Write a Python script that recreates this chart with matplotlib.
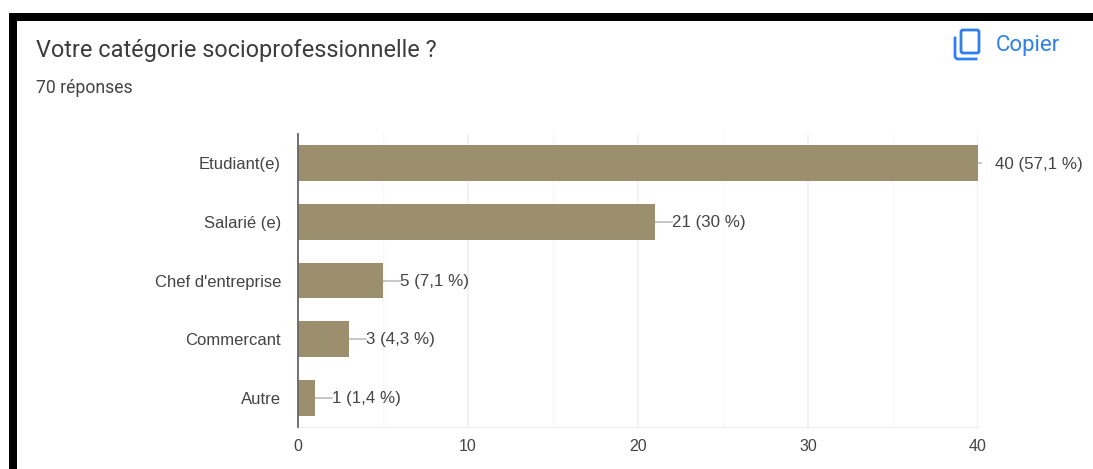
import matplotlib
matplotlib.use("Agg")
import matplotlib.pyplot as plt
from matplotlib.patches import FancyBboxPatch, Rectangle
from matplotlib.lines import Line2D

categories = ["Etudiant(e)", "Salarié (e)", "Chef d'entreprise", "Commercant", "Autre"]
counts = [40, 21, 5, 3, 1]
value_labels = ["40 (57,1 %)", "21 (30 %)", "5 (7,1 %)", "3 (4,3 %)", "1 (1,4 %)"]
x_ticks = [0, 10, 20, 30, 40]

W, H = 1093, 469
BAR = "#9c8f6e"
TXT = "#444444"
BLUE = "#2f80ed"

fig = plt.figure(figsize=(W / 100, H / 100), dpi=100)

# pixel coordinate layer for the card frame, header and icon
bg = fig.add_axes([0, 0, 1, 1])
bg.set_xlim(0, W)
bg.set_ylim(H, 0)
bg.axis("off")
bg.add_patch(Rectangle((9, 13), W - 9, 8, color="black", lw=0))
bg.add_patch(Rectangle((9, 13), 8, H - 13, color="black", lw=0))

bg.text(36, 51, "Votre catégorie socioprofessionnelle ?", fontsize=16.95, family="Roboto",
        color="#3c3c3c", va="center", ha="left")
bg.text(36, 88, "70 réponses", fontsize=12.7, family="Roboto", color="#444444", va="center", ha="left")
bg.text(996, 46, "Copier", fontsize=16, family="Roboto", color=BLUE, va="center", ha="left")

# copy icon
bg.add_patch(FancyBboxPatch((961, 30), 18, 23, boxstyle="round,pad=0,rounding_size=2",
                            fill=False, ec=BLUE, lw=2))
bg.add_line(Line2D([955, 955, 957, 976], [38, 57, 59, 59], color=BLUE, lw=2))

# bar chart
x0, x1, y0, y1 = 298, 978, 134, 427
ax = fig.add_axes([x0 / W, 1 - y1 / H, (x1 - x0) / W, (y1 - y0) / H])
ypos = list(range(len(categories)))
ax.barh(ypos, counts, height=0.61, color=BAR, zorder=3)
ax.set_xlim(0, 40)
ax.set_ylim(len(categories) - 0.5, -0.5)
ax.set_yticks(ypos)
ax.set_yticklabels(categories, fontsize=12, family="Liberation Sans", color=TXT)
ax.set_xticks(x_ticks)
ax.set_xticklabels(x_ticks, fontsize=11.5, family="Liberation Sans", color=TXT)
ax.set_xticks([5, 15, 25, 35], minor=True)
ax.tick_params(axis="both", which="both", length=0)
ax.tick_params(axis="y", pad=12.2)
ax.tick_params(axis="x", pad=8.5)
ax.grid(True, axis="x", which="major", color="#f0f0f0", lw=1.2, zorder=0)
ax.grid(True, axis="x", which="minor", color="#f8f8f8", lw=1, zorder=0)
for side in ["right", "top"]:
    ax.spines[side].set_visible(False)
ax.spines["bottom"].set_color("#ececec")
ax.spines["left"].set_color("#666666")
ax.spines["left"].set_linewidth(1.3)
ax.spines["left"].set_zorder(5)

# leader line from each bar end out to its label; the longest bar only gets a stub
for y, c, lab in zip(ypos, counts, value_labels):
    end = c + 0.2 if c == max(counts) else c + 1
    ax.plot([c, end], [y, y], color="#bdbdbd", lw=1.2, zorder=2, clip_on=False)
    ax.annotate(lab, (c + 1, y), xytext=(0, -0.6), textcoords="offset points",
                fontsize=12.2, family="Liberation Sans", color=TXT,
                va="center", ha="left", annotation_clip=False)

fig.savefig("out.png", dpi=100)
